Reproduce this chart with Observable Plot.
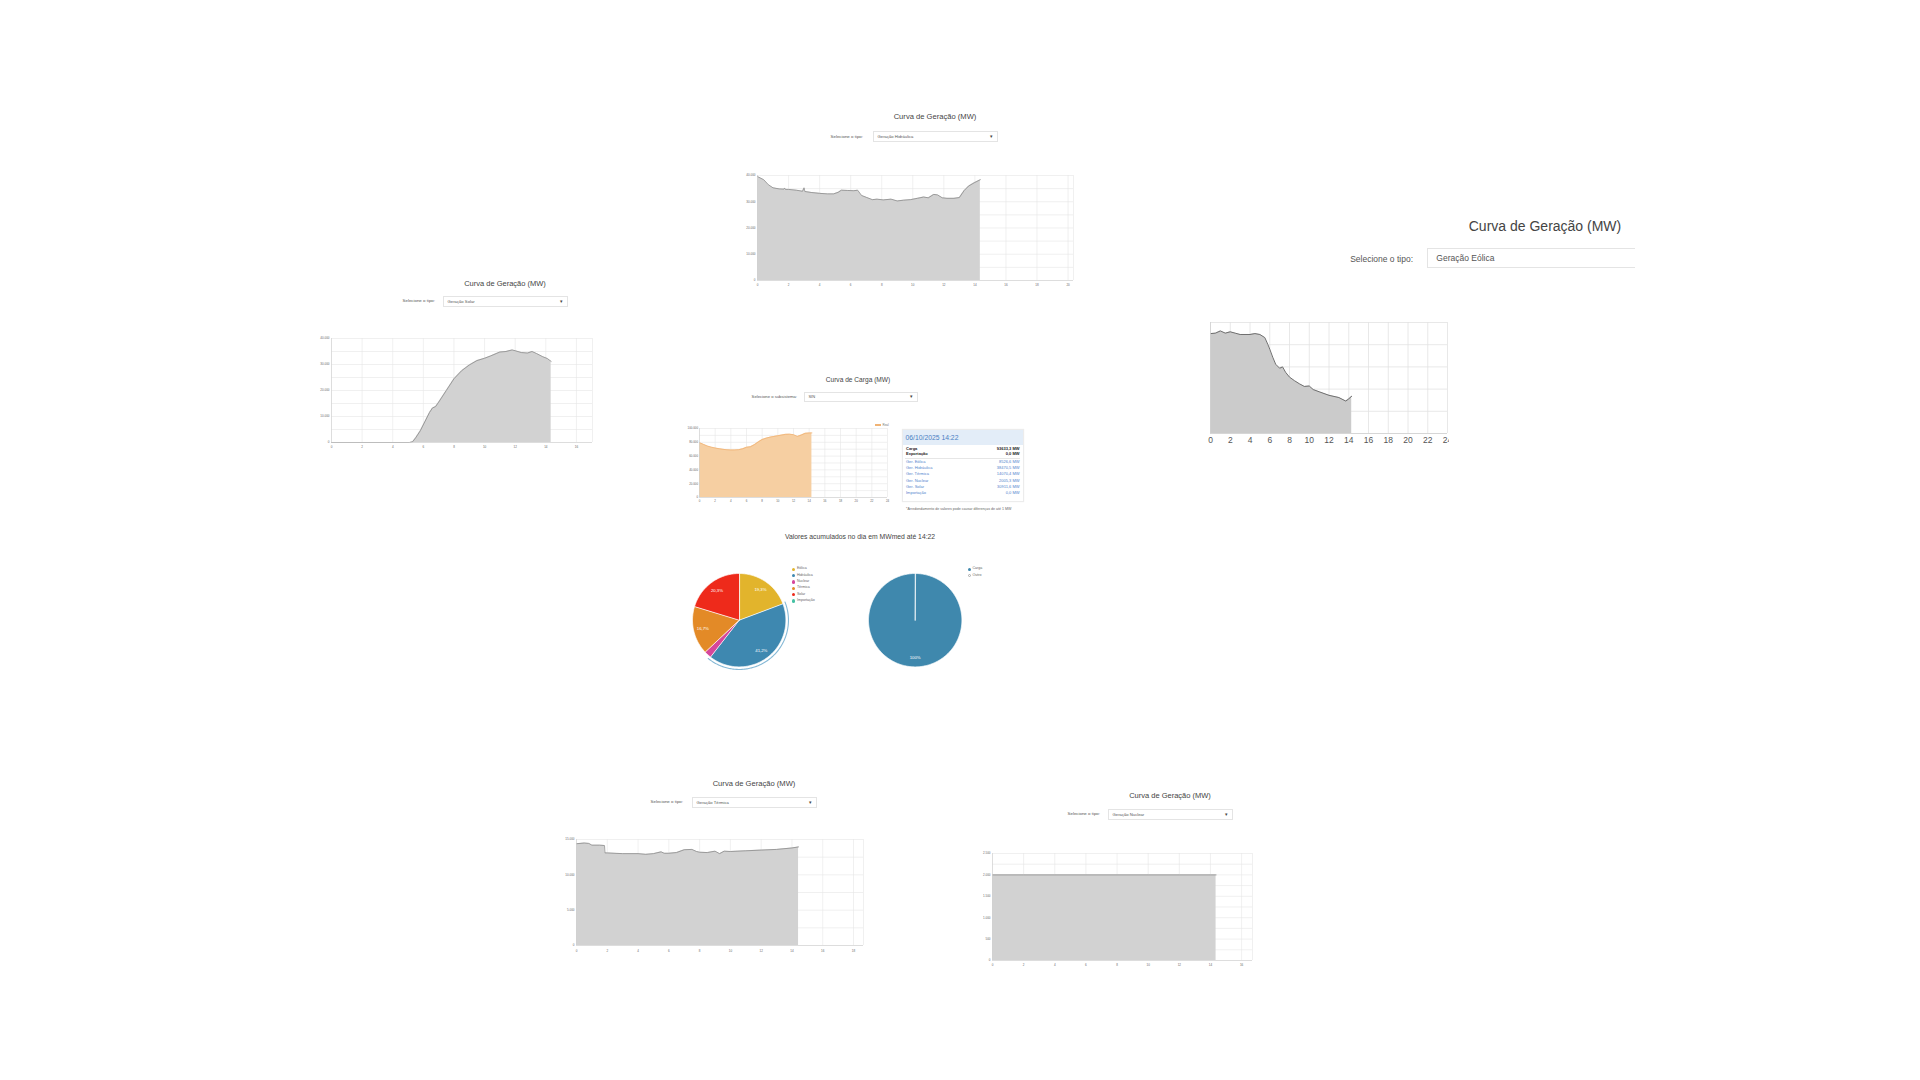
<!DOCTYPE html>
<html><head><meta charset="utf-8">
<script src="https://cdn.jsdelivr.net/npm/d3@7"></script>
<script src="https://cdn.jsdelivr.net/npm/@observablehq/plot@0.6"></script>
<style>
html,body{margin:0;padding:0;background:#fff;}
body{width:1920px;height:1080px;overflow:hidden;position:relative;font-family:"Liberation Sans",Arial,sans-serif;}
</style></head><body>
<script>
// ---------- DATA ----------
const hidroHoras = [0,0.4,0.7,1.0,1.4,1.7,1.75,1.8,2.0,2.5,2.9,3.0,3.05,3.5,4.0,4.5,4.9,5.2,5.4,5.8,6.2,6.45,6.7,7.0,7.4,7.7,8.1,8.6,9.0,9.4,9.85,10.3,10.7,11.0,11.35,11.6,11.9,12.2,12.65,13.0,13.3,13.6,13.95,14.35];
const hidroMW    = [39600,38400,36500,35300,34900,34800,35200,34700,34700,34400,34000,35300,33900,33500,33200,33000,33000,33600,34400,34300,34200,34400,32400,31700,30800,31000,30700,31000,30300,30600,30800,31300,31800,31500,32800,32600,31500,31300,31300,31600,34200,36000,37200,38400];

const solarHoras = [0,5.1,5.3,5.5,5.8,6.1,6.4,6.6,6.8,7.0,7.5,8.0,8.5,9.0,9.5,10.0,10.4,10.8,11.0,11.4,11.8,12.0,12.4,12.8,13.1,13.4,13.8,14.1,14.35];
const solarMW    = [0,0,300,1800,4500,8000,11500,13300,13800,15500,20000,24500,27600,29800,31500,32400,33300,34300,34800,35000,35600,35300,34600,34400,35000,34200,33000,32300,31200];

const eolicaHoras = [0,0.5,1.0,1.5,2.0,2.5,3.0,4.0,4.5,5.0,5.5,5.8,6.0,6.3,6.6,7.0,7.3,7.6,8.0,8.5,9.0,9.5,10.0,10.4,11.0,12.0,13.0,13.7,14.0,14.3];
const eolicaMW    = [22500,22600,23100,22600,22900,22600,22300,22300,22500,22300,21600,20100,19000,17200,15600,14700,15000,13800,12700,11900,11200,10600,10700,9900,9400,8600,8100,7300,7800,8400];

const cargaHoras = [0,0.5,1,1.5,2,2.5,3,3.5,4,4.5,5,5.5,6,6.5,7,7.5,8,8.5,9,9.5,10,10.5,11,11.5,12,12.5,13,13.5,14,14.35];
const cargaMW    = [79500,77000,74600,73000,71700,70700,69800,69200,68800,68900,69300,70500,72800,73500,76500,80500,84000,86000,87500,88500,89500,90500,91500,91800,91000,88500,90500,93000,93500,93600];

const termicaHoras = [0,0.5,0.8,1.0,1.5,1.82,1.85,2,3,4,4.5,5,5.5,5.7,6,6.5,7,7.5,7.8,8,8.5,9,9.3,9.6,10,11,12,13,14,14.43];
const termicaMW    = [14400,14500,14450,14200,14200,14150,13100,13100,13000,13000,12900,13000,13250,13050,13050,13150,13550,13600,13300,13200,13150,13350,13000,13350,13300,13400,13500,13600,13800,13950];

const nuclearHoras = [0,2,4,6,8,10,12,14,14.36];
const nuclearMW    = [2000,2000,2000,2000,2000,2000,2000,2000,2000];

const pieCategorias = ["Eólica","Hidráulica","Nuclear","Térmica","Solar","Importação"];
const pieValores    = [19.3,41.2,2.5,16.7,20.3,0];
const pieRotulos    = ["19,3%","41,2%","","16,7%","20,3%",""];
const pieCores      = ["#e2b42c","#3e88b0","#d6479b","#e38a27","#ee2a1b","#45c1a4"];

const pie2Categorias = ["Carga","Outro"];
const pie2Valores    = [100,0];
const pie2Rotulos    = ["100%",""];
const pie2Cores      = ["#3f88ad","#ffffff"];

const infoData   = "06/10/2025 14:22";
const infoLabels = ["Carga","Exportação","Ger. Eólica","Ger. Hidráulica","Ger. Térmica","Ger. Nuclear","Ger. Solar","Importação"];
const infoValues = ["93633,3 MW","0,0 MW","8526,6 MW","38470,5 MW","14070,4 MW","2005,3 MW","30911,6 MW","0,0 MW"];

const ticks0a20 = [0,2,4,6,8,10,12,14,16,18,20];
const ticks0a18 = [0,2,4,6,8,10,12,14,16,18];
const ticks0a16 = [0,2,4,6,8,10,12,14,16];
const ticks0a24 = [0,2,4,6,8,10,12,14,16,18,20,22,24];
const ticksY40k = [0,10000,20000,30000,40000];
const gridY40k  = [0,5000,10000,15000,20000,25000,30000,35000,40000];
const ticksY15k = [0,5000,10000,15000];
const gridY15k  = [0,2500,5000,7500,10000,12500,15000];
const ticksY2500 = [0,500,1000,1500,2000,2500];
const gridY2500  = [0,250,500,750,1000,1250,1500,1750,2000,2250,2500];
const gridY25k   = [0,5000,10000,15000,20000,25000];
const ticksY100k = [0,20000,40000,60000,80000,100000];
const gridY100k  = [0,10000,20000,30000,40000,50000,60000,70000,80000,90000,100000];

// ---------- HELPERS ----------
const FONT = "Liberation Sans, Arial, sans-serif";
const fmtBR = d3.formatLocale({decimal: ",", thousands: ".", grouping: [3], currency: ["R$ ", ""]}).format(",");

function text(str, x, y, size, {color = "#555", align = "center", weight = 400} = {}) {
  const d = document.createElement("div");
  d.textContent = str;
  const tx = align === "center" ? -50 : align === "right" ? -100 : 0;
  d.style.cssText = `position:absolute;left:${x}px;top:${y}px;font-size:${size}px;color:${color};font-weight:${weight};white-space:nowrap;line-height:1;transform:translate(${tx}%,-50%);`;
  document.body.appendChild(d);
  return d;
}

function select(x1, y1, x2, y2, str, size, {open = false} = {}) {
  const d = document.createElement("div");
  d.style.cssText = `position:absolute;left:${x1}px;top:${y1}px;width:${x2 - x1}px;height:${y2 - y1}px;border:1px solid #e4e4e4;${open ? "border-right:none;" : ""}box-sizing:border-box;background:#fff;`;
  document.body.appendChild(d);
  text(str, x1 + size * 1.1, (y1 + y2) / 2, size, {color: "#555", align: "left"});
  if (!open) text("▾", x2 - size * 1.6, (y1 + y2) / 2, size * 1.2, {color: "#444"});
}

function areaChart(c) {
  const ml = 40, mr = 20, mt = 10, mb = 20;
  const W = c.fx2 - c.fx1, H = c.fy2 - c.fy1;
  const data = c.hours.map((h, i) => ({h, v: c.values[i]}));
  const grid = c.gridColor || "#e6e6e6";
  const svg = Plot.plot({
    width: W + ml + mr, height: H + mt + mb,
    marginLeft: ml, marginRight: mr, marginTop: mt, marginBottom: mb,
    style: {fontSize: c.fs + "px", fontFamily: FONT, color: c.tickColor || "#666", background: "transparent", overflow: "visible"},
    x: {domain: c.xDomain, ticks: c.xTicks, tickFormat: d => String(d), tickSize: 0, tickPadding: c.xPad, label: null},
    y: c.showY === false
      ? {domain: c.yDomain, axis: null}
      : {domain: c.yDomain, ticks: c.yTicks, tickFormat: fmtBR, tickSize: 0, tickPadding: c.yPad, label: null},
    marks: [
      Plot.ruleY(c.yGrid, {stroke: grid, strokeWidth: c.gw || 0.6}),
      Plot.ruleX(c.xGrid, {stroke: grid, strokeWidth: c.gw || 0.6}),
      Plot.areaY(data, {x: "h", y: "v", fill: c.fill}),
      Plot.lineY(data, {x: "h", y: "v", stroke: c.stroke, strokeWidth: c.sw || 0.8}),
      Plot.ruleX([c.xDomain[0]], {stroke: "#d0d0d0", strokeWidth: c.gw || 0.6}),
      Plot.ruleY([c.yDomain[0]], {stroke: "#d0d0d0", strokeWidth: c.gw || 0.6})
    ]
  });
  svg.style.maxWidth = "none";
  svg.style.width = (W + ml + mr) + "px";
  svg.style.height = (H + mt + mb) + "px";
  if (c.clipRight) {
    const wrap = document.createElement("div");
    wrap.style.cssText = `position:absolute;left:${c.fx1 - ml}px;top:${c.fy1 - mt}px;width:${c.clipRight - (c.fx1 - ml)}px;height:${H + mt + mb}px;overflow:hidden;`;
    svg.style.position = "absolute"; svg.style.left = "0px"; svg.style.top = "0px";
    wrap.appendChild(svg);
    document.body.appendChild(wrap);
  } else {
    svg.style.position = "absolute";
    svg.style.left = (c.fx1 - ml) + "px";
    svg.style.top = (c.fy1 - mt) + "px";
    document.body.appendChild(svg);
  }
}

function arcPts(a0, a1, r, withCenter) {
  const n = Math.max(2, Math.ceil((a1 - a0) / 0.02));
  const pts = withCenter ? [[0, 0]] : [];
  for (let i = 0; i <= n; i++) {
    const a = a0 + (a1 - a0) * i / n;
    pts.push([r * Math.sin(a), r * Math.cos(a)]);
  }
  return pts;
}

function pie(cx, cy, r, cats, vals, colors, labels, highlight) {
  const size = 2 * r + 12;
  const R = size / 2 / r;
  const total = d3.sum(vals);
  const marks = [];
  const lab = [];
  let a = 0;
  cats.forEach((cat, i) => {
    const v = vals[i];
    if (!v) return;
    const a0 = a, a1 = a + v / total * 2 * Math.PI;
    a = a1;
    if (cat === highlight) {
      marks.push(Plot.line(arcPts(a0 - 0.02, a1 + 0.02, 1.055, false), {x: d => d[0], y: d => d[1], stroke: "#86b9d6", strokeWidth: 1.1, fill: "none"}));
    }
    marks.push(Plot.line(arcPts(a0, a1, 1, true), {x: d => d[0], y: d => d[1], fill: colors[i], stroke: "#fff", strokeWidth: 0.7, curve: "linear-closed"}));
    const m = (a0 + a1) / 2;
    if (labels[i]) lab.push({x: 0.8 * Math.sin(m), y: 0.8 * Math.cos(m), t: labels[i]});
  });
  marks.push(Plot.text(lab, {x: "x", y: "y", text: "t", fill: "#fff", fontSize: 4.3}));
  const svg = Plot.plot({
    width: size, height: size, margin: 0,
    style: {fontFamily: FONT, background: "transparent", overflow: "visible"},
    x: {domain: [-R, R], axis: null},
    y: {domain: [-R, R], axis: null},
    marks
  });
  svg.style.maxWidth = "none";
  svg.style.position = "absolute";
  svg.style.left = (cx - size / 2) + "px";
  svg.style.top = (cy - size / 2) + "px";
  document.body.appendChild(svg);
}

function legend(x, y, step, cats, colors, size, hollow) {
  cats.forEach((c, i) => {
    const d = document.createElement("div");
    const isHollow = hollow && hollow.includes(c);
    d.style.cssText = `position:absolute;left:${x - 1.6}px;top:${y + i * step - 1.6}px;width:3.2px;height:3.2px;border-radius:50%;box-sizing:border-box;${isHollow ? "border:0.6px solid #aaa;background:#fff;" : "background:" + colors[i] + ";"}`;
    document.body.appendChild(d);
    text(c, x + 3.2, y + i * step, size, {color: "#666", align: "left"});
  });
}

// ---------- PANEL: Hidráulica (top center) ----------
text("Curva de Geração (MW)", 935, 117, 7.6, {color: "#444"});
text("Selecione o tipo:", 863, 137, 4.4, {color: "#555", align: "right"});
select(873, 131, 998, 142, "Geração Hidráulica", 4.2);
areaChart({fx1: 757, fy1: 175, fx2: 1073, fy2: 280, xDomain: [0, 20.35], yDomain: [0, 40000],
  xTicks: ticks0a20, yTicks: ticksY40k, xGrid: ticks0a20.concat([20.35]), yGrid: gridY40k,
  hours: hidroHoras, values: hidroMW, fill: "#d2d2d2", stroke: "#8c8c8c", fs: 3, xPad: 3.5, yPad: 2});

// ---------- PANEL: Solar (left) ----------
text("Curva de Geração (MW)", 505, 284, 7.5, {color: "#444"});
text("Selecione o tipo:", 435, 301, 4.4, {color: "#555", align: "right"});
select(443, 296, 568, 307, "Geração Solar", 4.2);
areaChart({fx1: 331, fy1: 338, fx2: 592, fy2: 442, xDomain: [0, 17.05], yDomain: [0, 40000],
  xTicks: ticks0a16, yTicks: ticksY40k, xGrid: ticks0a16.concat([17.05]), yGrid: gridY40k,
  hours: solarHoras, values: solarMW, fill: "#d2d2d2", stroke: "#8c8c8c", fs: 3, xPad: 3.5, yPad: 2});

// ---------- PANEL: Eólica (right, large) ----------
text("Curva de Geração (MW)", 1545, 226, 14, {color: "#444"});
text("Selecione o tipo:", 1413, 259, 8.5, {color: "#555", align: "right"});
select(1427, 248, 1635, 268, "Geração Eólica", 8.5, {open: true});
areaChart({fx1: 1210, fy1: 322, fx2: 1447, fy2: 433, xDomain: [0, 24], yDomain: [0, 25000],
  xTicks: ticks0a24, yTicks: gridY25k, xGrid: ticks0a24, yGrid: gridY25k, showY: false,
  hours: eolicaHoras, values: eolicaMW, fill: "#cbcbcb", stroke: "#6f6f6f", sw: 1, gw: 0.8, gridColor: "#e2e2e2",
  fs: 8.5, tickColor: "#555", xPad: 3, clipRight: 1449});

// ---------- PANEL: Carga ----------
text("Curva de Carga (MW)", 858, 380, 6.6, {color: "#444"});
text("Selecione o subsistema:", 797, 397, 4.2, {color: "#555", align: "right"});
select(804, 392, 918, 402, "SIN", 4);
areaChart({fx1: 699, fy1: 428, fx2: 887, fy2: 497, xDomain: [0, 24], yDomain: [0, 100000],
  xTicks: ticks0a24, yTicks: ticksY100k, xGrid: ticks0a24, yGrid: gridY100k,
  hours: cargaHoras, values: cargaMW, fill: "#f6cfa2", stroke: "#f0b375", fs: 2.9, xPad: 2.5, yPad: 1.5});
(function () {
  const s = document.createElement("div");
  s.style.cssText = "position:absolute;left:875px;top:424.4px;width:6px;height:1.2px;background:#f0b375;";
  document.body.appendChild(s);
  text("Real", 882.5, 425, 3, {color: "#777", align: "left"});
})();

// Info box
(function () {
  const box = document.createElement("div");
  box.style.cssText = "position:absolute;left:901.5px;top:429px;width:122px;height:73px;border:1px solid #ececec;box-sizing:border-box;background:#fff;box-shadow:0 0 1px rgba(0,0,0,0.08);";
  document.body.appendChild(box);
  const hdr = document.createElement("div");
  hdr.style.cssText = "position:absolute;left:902.5px;top:430px;width:120px;height:15px;background:#e3edf8;";
  document.body.appendChild(hdr);
  text(infoData, 905.5, 437.5, 6.8, {color: "#4a7fc3", align: "left"});
  const rowsY = [448.7, 453.8, 462.3, 468.3, 474.3, 480.5, 486.6, 492.6];
  infoLabels.forEach((l, i) => {
    const bold = i < 2;
    const col = bold ? "#222" : "#4f82cc";
    text(l, 906, rowsY[i], 4, {color: col, align: "left", weight: bold ? 700 : 400});
    text(infoValues[i], 1019.5, rowsY[i], 4, {color: col, align: "right", weight: bold ? 700 : 400});
  });
  const sep = document.createElement("div");
  sep.style.cssText = "position:absolute;left:905px;top:457.5px;width:115px;height:0.6px;background:#e6e6e6;";
  document.body.appendChild(sep);
  text("*Arredondamento de valores pode causar diferenças de até 1 MW", 906, 509.5, 3.6, {color: "#666", align: "left"});
})();

// ---------- PIES ----------
text("Valores acumulados no dia em MWmed até 14:22", 860, 537, 6.8, {color: "#444"});
pie(739, 620, 46.7, pieCategorias, pieValores, pieCores, pieRotulos, "Hidráulica");
legend(793.7, 569.3, 6.35, pieCategorias, pieCores, 3.6);
pie(914.3, 620, 46.7, pie2Categorias, pie2Valores, pie2Cores, pie2Rotulos, null);
legend(969.3, 569.3, 6.35, pie2Categorias, pie2Cores, 3.6, ["Outro"]);

// ---------- PANEL: Térmica (bottom left) ----------
text("Curva de Geração (MW)", 754, 784, 7.6, {color: "#444"});
text("Selecione o tipo:", 683, 802, 4.4, {color: "#555", align: "right"});
select(692, 797, 817, 808, "Geração Térmica", 4.2);
areaChart({fx1: 576, fy1: 839, fx2: 863, fy2: 945, xDomain: [0, 18.65], yDomain: [0, 15000],
  xTicks: ticks0a18, yTicks: ticksY15k, xGrid: ticks0a18.concat([18.65]), yGrid: gridY15k,
  hours: termicaHoras, values: termicaMW, fill: "#d2d2d2", stroke: "#8c8c8c", fs: 3, xPad: 4, yPad: 2});

// ---------- PANEL: Nuclear (bottom right) ----------
text("Curva de Geração (MW)", 1170, 796, 7.5, {color: "#444"});
text("Selecione o tipo:", 1100, 814, 4.4, {color: "#555", align: "right"});
select(1108, 809, 1233, 820, "Geração Nuclear", 4.2);
areaChart({fx1: 992, fy1: 853, fx2: 1252, fy2: 960, xDomain: [0, 16.7], yDomain: [0, 2500],
  xTicks: ticks0a16, yTicks: ticksY2500, xGrid: ticks0a16.concat([16.7]), yGrid: gridY2500,
  hours: nuclearHoras, values: nuclearMW, fill: "#d2d2d2", stroke: "#8c8c8c", fs: 3, xPad: 3.5, yPad: 2});
</script>
</body></html>
